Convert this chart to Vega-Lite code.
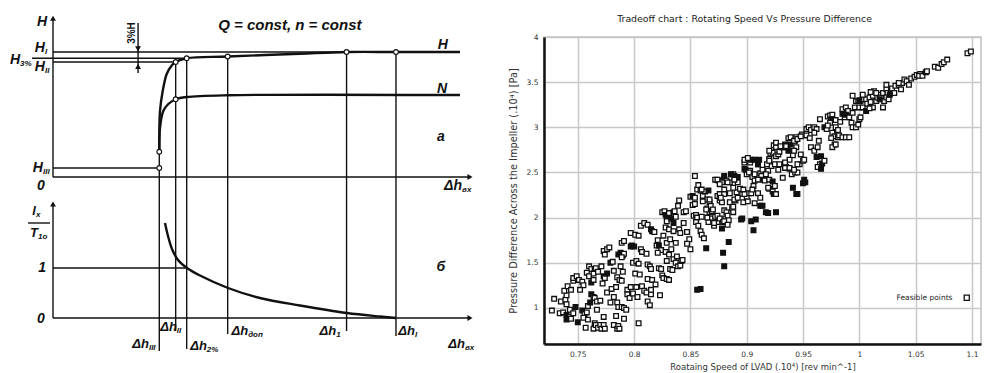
{
"$schema": "https://vega.github.io/schema/vega-lite/v6.json",
"padding": {"left": 5, "top": 12, "right": 2, "bottom": 0},
"background": "white",
"config": {"view": {"stroke": null}},
"datasets": {
"topRules": [
{"x":0,"y":0,"x2":0,"y2":127},{"x":0,"y":0,"x2":100,"y2":0},{"x":0,"y":100,"x2":97.6,"y2":100},
{"x":-5.04,"y":95,"x2":32.06,"y2":95},{"x":0,"y":92,"x2":29.42,"y2":92},{"x":0,"y":7.2,"x2":25.49,"y2":7.2},
{"x":25.49,"y":20.2,"x2":25.49,"y2":-12.8},{"x":29.42,"y":92,"x2":29.42,"y2":-12.8},{"x":32.06,"y":95,"x2":32.06,"y2":-12.8},
{"x":41.89,"y":96.4,"x2":41.89,"y2":-12.8},{"x":70.4,"y":100,"x2":70.4,"y2":-12.8},{"x":82.25,"y":100,"x2":82.25,"y2":-12.8},
{"x":20.4,"y":123.2,"x2":20.4,"y2":83.2}],
"topCurves": [
{"c":"H","o":1,"x":25.49,"y":20.2},{"c":"H","o":2,"x":25.5,"y":34.4},{"c":"H","o":3,"x":25.66,"y":52.8},{"c":"H","o":4,"x":26.31,"y":68.8},
{"c":"H","o":5,"x":27.27,"y":82.4},{"c":"H","o":6,"x":28.47,"y":89.2},{"c":"H","o":7,"x":29.42,"y":92},{"c":"H","o":8,"x":32.06,"y":95},
{"c":"H","o":9,"x":41.89,"y":96.4},{"c":"H","o":10,"x":59.2,"y":98.6},{"c":"H","o":11,"x":70.4,"y":100},{"c":"H","o":12,"x":82.25,"y":100},{"c":"H","o":13,"x":97.6,"y":100},
{"c":"N","o":1,"x":25.49,"y":20.2},{"c":"N","o":2,"x":25.66,"y":39.4},{"c":"N","o":3,"x":26.45,"y":52.8},{"c":"N","o":4,"x":27.65,"y":58.4},
{"c":"N","o":5,"x":29.42,"y":62.2},{"c":"N","o":6,"x":32.06,"y":64},{"c":"N","o":7,"x":41.89,"y":65.4},{"c":"N","o":8,"x":97.6,"y":65.6}],
"topPts": [{"x":25.49,"y":20.2},{"x":25.49,"y":7.2},{"x":29.42,"y":92},{"x":32.06,"y":95},{"x":41.89,"y":96.4},{"x":70.4,"y":100},{"x":82.25,"y":100},{"x":29.42,"y":62.2}],
"topArrows": [{"x":0,"y":127,"d":"up"},{"x":100,"y":0,"d":"right"},{"x":20.4,"y":102.5,"d":"down"},{"x":20.4,"y":88.5,"d":"up"}],
"topSub": [{"x":-1.92,"y":103.2,"m":"H","s":"I"},{"x":-7.9,"y":93.5,"m":"H","s":"3%"},{"x":-1.92,"y":88,"m":"H","s":"II"},{"x":-2.4,"y":7.2,"m":"H","s":"III"},{"x":98.1,"y":-7.2,"m":"Δh","s":"вх"}],
"topTxt": [{"x":-2.64,"y":124.4,"t":"H"},{"x":-2.9,"y":-7.2,"t":"0"},{"x":93.5,"y":105.6,"t":"H"},{"x":93.3,"y":70.4,"t":"N"},{"x":93.0,"y":32,"t":"а"}],
"botRules": [
{"x":0,"y":0,"x2":0,"y2":2.28},{"x":0,"y":0,"x2":100,"y2":0},{"x":0,"y":1,"x2":32.06,"y2":1},
{"x":25.49,"y":2.5,"x2":25.49,"y2":-0.66},{"x":29.42,"y":2.5,"x2":29.42,"y2":-0.26},{"x":32.06,"y":2.5,"x2":32.06,"y2":-0.62},
{"x":41.89,"y":2.5,"x2":41.89,"y2":-0.32},{"x":70.4,"y":2.5,"x2":70.4,"y2":-0.26},{"x":82.25,"y":2.5,"x2":82.25,"y2":-0.36},
{"x":-6,"y":1.9,"x2":-0.72,"y2":1.9}],
"botCurve": [{"o":1,"x":26.86,"y":1.9},{"o":2,"x":27.58,"y":1.64},{"o":3,"x":28.54,"y":1.38},{"o":4,"x":29.98,"y":1.16},{"o":5,"x":32.13,"y":1.0},
{"o":6,"x":35.25,"y":0.85},{"o":7,"x":41.97,"y":0.6},{"o":8,"x":49.64,"y":0.4},{"o":9,"x":59.23,"y":0.25},{"o":10,"x":70.5,"y":0.1},{"o":11,"x":78.4,"y":0.03},{"o":12,"x":82.25,"y":0}],
"botArrows": [{"x":0,"y":2.28,"d":"up"},{"x":100,"y":0,"d":"right"}],
"botSub": [{"x":23.0,"y":-0.52,"m":"Δh","s":"III"},{"x":29.7,"y":-0.18,"m":"Δh","s":"II"},{"x":36.9,"y":-0.56,"m":"Δh","s":"2%"},
{"x":46.8,"y":-0.26,"m":"Δh","s":"доп"},{"x":67.9,"y":-0.26,"m":"Δh","s":"1"},{"x":86.8,"y":-0.26,"m":"Δh","s":"I"},
{"x":98.8,"y":-0.52,"m":"Δh","s":"вх"},{"x":-4.08,"y":2.14,"m":"l","s":"x"},{"x":-3.6,"y":1.7,"m":"T","s":"1o"}],
"botTxt": [{"x":-2.9,"y":-0.02,"t":"0"},{"x":-2.6,"y":1.0,"t":"1"},{"x":93.0,"y":1.02,"t":"б"}],
"pts": [
{"x":0.727,"y":0.97,"k":0},{"x":0.729,"y":1.10,"k":0},{"x":0.735,"y":1.07,"k":0},{"x":0.739,"y":1.09,"k":0},{"x":0.740,"y":1.14,"k":0},{"x":0.738,"y":1.19,"k":0},{"x":0.741,"y":1.24,"k":0},{"x":0.744,"y":1.20,"k":0},{"x":0.740,"y":1.04,"k":0},{"x":0.734,"y":0.94,"k":0},{"x":0.737,"y":0.95,"k":0},{"x":0.743,"y":0.98,"k":0},{"x":0.740,"y":0.92,"k":1},{"x":0.740,"y":0.87,"k":1},{"x":0.743,"y":0.90,"k":0},{"x":0.744,"y":0.88,"k":0},{"x":0.746,"y":0.94,"k":0},{"x":0.748,"y":1.01,"k":1},{"x":0.750,"y":0.84,"k":1},{"x":0.746,"y":1.30,"k":0},{"x":0.746,"y":1.33,"k":0},{"x":0.749,"y":1.35,"k":0},{"x":0.751,"y":1.31,"k":0},{"x":0.754,"y":1.29,"k":0},{"x":0.755,"y":1.25,"k":0},{"x":0.752,"y":1.20,"k":0},{"x":0.754,"y":0.97,"k":1},{"x":0.756,"y":0.93,"k":0},{"x":0.755,"y":0.89,"k":0},{"x":0.757,"y":0.78,"k":0},{"x":0.759,"y":0.87,"k":0},{"x":0.758,"y":0.95,"k":0},{"x":0.759,"y":1.02,"k":0},{"x":0.760,"y":1.46,"k":0},{"x":0.762,"y":1.43,"k":0},{"x":0.758,"y":1.39,"k":0},{"x":0.760,"y":1.35,"k":0},{"x":0.764,"y":1.38,"k":0},{"x":0.762,"y":1.28,"k":1},{"x":0.764,"y":1.31,"k":0},{"x":0.765,"y":1.43,"k":0},{"x":0.766,"y":1.44,"k":0},{"x":0.768,"y":1.40,"k":0},{"x":0.762,"y":1.15,"k":1},{"x":0.764,"y":1.12,"k":0},{"x":0.765,"y":1.11,"k":0},{"x":0.767,"y":1.07,"k":0},{"x":0.761,"y":1.06,"k":1},{"x":0.767,"y":0.98,"k":0},{"x":0.765,"y":0.83,"k":0},{"x":0.764,"y":0.77,"k":0},{"x":0.766,"y":0.81,"k":0},{"x":0.768,"y":0.78,"k":0},{"x":0.770,"y":0.81,"k":0},{"x":0.771,"y":0.77,"k":0},{"x":0.773,"y":0.81,"k":0},{"x":0.774,"y":0.77,"k":0},{"x":0.773,"y":0.90,"k":0},{"x":0.770,"y":1.08,"k":0},{"x":0.771,"y":1.46,"k":0},{"x":0.773,"y":1.35,"k":1},{"x":0.774,"y":1.33,"k":0},{"x":0.776,"y":1.38,"k":1},{"x":0.772,"y":1.27,"k":0},{"x":0.773,"y":1.63,"k":0},{"x":0.774,"y":1.59,"k":0},{"x":0.776,"y":1.65,"k":0},{"x":0.778,"y":1.67,"k":0},{"x":0.779,"y":1.50,"k":1},{"x":0.781,"y":1.51,"k":0},{"x":0.782,"y":1.41,"k":0},{"x":0.776,"y":1.17,"k":0},{"x":0.780,"y":1.21,"k":0},{"x":0.784,"y":1.23,"k":0},{"x":0.782,"y":1.12,"k":0},{"x":0.779,"y":1.06,"k":0},{"x":0.785,"y":1.06,"k":0},{"x":0.784,"y":0.91,"k":0},{"x":0.782,"y":0.81,"k":0},{"x":0.785,"y":0.77,"k":0},{"x":0.786,"y":0.80,"k":0},{"x":0.787,"y":0.77,"k":0},{"x":0.786,"y":1.01,"k":0},{"x":0.789,"y":1.01,"k":0},{"x":0.791,"y":1.00,"k":0},{"x":0.793,"y":0.98,"k":0},{"x":0.791,"y":0.88,"k":0},{"x":0.785,"y":1.34,"k":0},{"x":0.787,"y":1.31,"k":0},{"x":0.789,"y":1.30,"k":0},{"x":0.790,"y":1.40,"k":0},{"x":0.788,"y":1.46,"k":0},{"x":0.786,"y":1.59,"k":1},{"x":0.788,"y":1.61,"k":1},{"x":0.790,"y":1.58,"k":1},{"x":0.791,"y":1.60,"k":0},{"x":0.789,"y":1.72,"k":0},{"x":0.791,"y":1.74,"k":0},{"x":0.789,"y":1.56,"k":0},{"x":0.794,"y":1.20,"k":0},{"x":0.794,"y":1.15,"k":0},{"x":0.796,"y":1.11,"k":0},{"x":0.797,"y":1.23,"k":0},{"x":0.797,"y":1.68,"k":1},{"x":0.798,"y":1.69,"k":1},{"x":0.800,"y":1.68,"k":1},{"x":0.797,"y":1.83,"k":0},{"x":0.801,"y":1.81,"k":0},{"x":0.804,"y":1.80,"k":0},{"x":0.799,"y":1.50,"k":0},{"x":0.802,"y":1.52,"k":0},{"x":0.804,"y":1.49,"k":0},{"x":0.801,"y":1.38,"k":0},{"x":0.805,"y":1.37,"k":0},{"x":0.804,"y":0.83,"k":0},{"x":0.799,"y":1.16,"k":0},{"x":0.803,"y":1.12,"k":0},{"x":0.802,"y":1.23,"k":0},{"x":0.807,"y":1.24,"k":0},{"x":0.809,"y":1.19,"k":0},{"x":0.806,"y":1.65,"k":0},{"x":0.807,"y":1.62,"k":0},{"x":0.811,"y":1.60,"k":0},{"x":0.812,"y":1.48,"k":0},{"x":0.814,"y":1.46,"k":0},{"x":0.815,"y":1.43,"k":0},{"x":0.806,"y":1.91,"k":0},{"x":0.809,"y":1.94,"k":0},{"x":0.812,"y":1.92,"k":0},{"x":0.815,"y":1.87,"k":1},{"x":0.816,"y":1.85,"k":1},{"x":0.818,"y":1.84,"k":0},{"x":0.812,"y":1.32,"k":0},{"x":0.816,"y":1.31,"k":0},{"x":0.811,"y":1.17,"k":0},{"x":0.815,"y":1.15,"k":0},{"x":0.812,"y":1.07,"k":0},{"x":0.814,"y":1.03,"k":0},{"x":0.815,"y":1.20,"k":0},{"x":0.819,"y":1.26,"k":0},{"x":0.821,"y":1.75,"k":0},{"x":0.820,"y":1.69,"k":0},{"x":0.822,"y":1.69,"k":1},{"x":0.824,"y":1.64,"k":0},{"x":0.821,"y":1.61,"k":0},{"x":0.823,"y":1.14,"k":0},{"x":0.822,"y":1.44,"k":0},{"x":0.824,"y":1.43,"k":0},{"x":0.825,"y":1.36,"k":0},{"x":0.826,"y":1.33,"k":0},{"x":0.825,"y":2.06,"k":0},{"x":0.827,"y":2.07,"k":0},{"x":0.828,"y":2.03,"k":1},{"x":0.829,"y":2.01,"k":1},{"x":0.831,"y":2.05,"k":0},{"x":0.829,"y":1.96,"k":0},{"x":0.828,"y":1.89,"k":0},{"x":0.831,"y":1.87,"k":0},{"x":0.826,"y":1.80,"k":0},{"x":0.829,"y":1.72,"k":0},{"x":0.832,"y":1.76,"k":0},{"x":0.828,"y":1.62,"k":0},{"x":0.831,"y":1.59,"k":0},{"x":0.833,"y":1.65,"k":0},{"x":0.829,"y":1.52,"k":0},{"x":0.832,"y":1.43,"k":0},{"x":0.834,"y":1.42,"k":0},{"x":0.829,"y":1.32,"k":0},{"x":0.831,"y":1.31,"k":0},{"x":0.833,"y":1.99,"k":1},{"x":0.835,"y":1.94,"k":1},{"x":0.835,"y":2.06,"k":1},{"x":0.837,"y":2.01,"k":0},{"x":0.840,"y":2.19,"k":0},{"x":0.839,"y":2.13,"k":0},{"x":0.836,"y":2.07,"k":0},{"x":0.835,"y":1.85,"k":0},{"x":0.837,"y":1.72,"k":0},{"x":0.835,"y":1.54,"k":0},{"x":0.837,"y":1.50,"k":0},{"x":0.838,"y":1.57,"k":0},{"x":0.839,"y":1.46,"k":0},{"x":0.841,"y":1.47,"k":0},{"x":0.842,"y":1.52,"k":0},{"x":0.843,"y":1.53,"k":0},{"x":0.840,"y":1.87,"k":0},{"x":0.841,"y":1.83,"k":0},{"x":0.844,"y":1.94,"k":0},{"x":0.844,"y":2.06,"k":0},{"x":0.846,"y":2.07,"k":0},{"x":0.847,"y":1.84,"k":0},{"x":0.849,"y":1.76,"k":0},{"x":0.850,"y":1.65,"k":0},{"x":0.847,"y":1.71,"k":0},{"x":0.850,"y":2.23,"k":0},{"x":0.852,"y":2.24,"k":1},{"x":0.854,"y":2.22,"k":0},{"x":0.852,"y":2.14,"k":0},{"x":0.854,"y":2.15,"k":0},{"x":0.853,"y":2.02,"k":0},{"x":0.855,"y":2.03,"k":0},{"x":0.856,"y":2.00,"k":0},{"x":0.855,"y":1.95,"k":0},{"x":0.857,"y":1.91,"k":0},{"x":0.859,"y":1.85,"k":0},{"x":0.860,"y":1.81,"k":0},{"x":0.862,"y":1.77,"k":0},{"x":0.864,"y":1.66,"k":1},{"x":0.856,"y":1.20,"k":1},{"x":0.859,"y":1.21,"k":1},{"x":0.856,"y":2.31,"k":0},{"x":0.859,"y":2.30,"k":0},{"x":0.861,"y":2.24,"k":0},{"x":0.863,"y":2.29,"k":0},{"x":0.866,"y":2.30,"k":1},{"x":0.865,"y":2.20,"k":0},{"x":0.867,"y":2.17,"k":0},{"x":0.865,"y":2.10,"k":0},{"x":0.867,"y":2.06,"k":0},{"x":0.869,"y":2.07,"k":0},{"x":0.868,"y":1.99,"k":0},{"x":0.866,"y":1.95,"k":0},{"x":0.871,"y":1.91,"k":0},{"x":0.874,"y":1.95,"k":0},{"x":0.872,"y":2.01,"k":0},{"x":0.874,"y":2.02,"k":0},{"x":0.876,"y":1.99,"k":0},{"x":0.874,"y":2.24,"k":0},{"x":0.876,"y":2.26,"k":0},{"x":0.880,"y":2.31,"k":0},{"x":0.876,"y":2.19,"k":0},{"x":0.878,"y":2.17,"k":0},{"x":0.880,"y":2.08,"k":0},{"x":0.882,"y":2.06,"k":0},{"x":0.878,"y":1.88,"k":1},{"x":0.879,"y":1.95,"k":0},{"x":0.881,"y":1.99,"k":0},{"x":0.883,"y":2.02,"k":0},{"x":0.884,"y":1.97,"k":0},{"x":0.879,"y":1.61,"k":1},{"x":0.880,"y":1.46,"k":1},{"x":0.884,"y":1.73,"k":1},{"x":0.885,"y":2.17,"k":0},{"x":0.887,"y":2.10,"k":0},{"x":0.888,"y":2.06,"k":0},{"x":0.888,"y":2.12,"k":0},{"x":0.890,"y":2.19,"k":0},{"x":0.891,"y":2.28,"k":0},{"x":0.894,"y":2.32,"k":0},{"x":0.896,"y":2.26,"k":0},{"x":0.897,"y":2.17,"k":0},{"x":0.896,"y":1.99,"k":1},{"x":0.900,"y":2.22,"k":0},{"x":0.902,"y":2.27,"k":0},{"x":0.904,"y":1.96,"k":1},{"x":0.906,"y":1.86,"k":1},{"x":0.910,"y":2.27,"k":0},{"x":0.912,"y":2.22,"k":0},{"x":0.912,"y":2.13,"k":1},{"x":0.917,"y":2.06,"k":1},{"x":0.920,"y":2.32,"k":0},{"x":0.923,"y":2.29,"k":0},{"x":0.924,"y":2.26,"k":1},{"x":0.926,"y":2.06,"k":1},{"x":0.941,"y":2.33,"k":1},{"x":0.944,"y":2.26,"k":1},
{"x":0.854,"y":2.46,"k":0},{"x":0.857,"y":2.36,"k":0},{"x":0.872,"y":2.42,"k":0},{"x":0.875,"y":2.41,"k":1},{"x":0.880,"y":2.43,"k":1},{"x":0.882,"y":2.41,"k":0},{"x":0.878,"y":2.39,"k":0},{"x":0.885,"y":2.39,"k":0},{"x":0.892,"y":2.39,"k":0},{"x":0.888,"y":2.48,"k":0},{"x":0.889,"y":2.46,"k":1},{"x":0.892,"y":2.45,"k":1},{"x":0.898,"y":2.61,"k":0},{"x":0.900,"y":2.64,"k":0},{"x":0.903,"y":2.61,"k":0},{"x":0.904,"y":2.64,"k":1},{"x":0.898,"y":2.54,"k":1},{"x":0.900,"y":2.48,"k":0},{"x":0.903,"y":2.52,"k":0},{"x":0.905,"y":2.45,"k":0},{"x":0.907,"y":2.41,"k":0},{"x":0.906,"y":2.35,"k":0},{"x":0.910,"y":2.59,"k":0},{"x":0.912,"y":2.49,"k":0},{"x":0.913,"y":2.46,"k":0},{"x":0.915,"y":2.42,"k":0},{"x":0.916,"y":2.41,"k":0},{"x":0.919,"y":2.52,"k":0},{"x":0.922,"y":2.57,"k":0},{"x":0.918,"y":2.59,"k":0},{"x":0.920,"y":2.65,"k":0},{"x":0.921,"y":2.71,"k":0},{"x":0.923,"y":2.72,"k":0},{"x":0.924,"y":2.80,"k":0},{"x":0.926,"y":2.78,"k":0},{"x":0.926,"y":2.68,"k":0},{"x":0.928,"y":2.70,"k":0},{"x":0.929,"y":2.73,"k":0},{"x":0.931,"y":2.78,"k":1},{"x":0.932,"y":2.78,"k":1},{"x":0.934,"y":2.81,"k":1},{"x":0.936,"y":2.78,"k":0},{"x":0.938,"y":2.85,"k":0},{"x":0.937,"y":2.88,"k":0},{"x":0.939,"y":2.89,"k":0},{"x":0.943,"y":2.85,"k":1},{"x":0.944,"y":2.89,"k":0},{"x":0.949,"y":2.92,"k":0},{"x":0.944,"y":2.78,"k":0},{"x":0.941,"y":2.69,"k":0},{"x":0.938,"y":2.64,"k":0},{"x":0.934,"y":2.60,"k":0},{"x":0.935,"y":2.56,"k":0},{"x":0.938,"y":2.54,"k":0},{"x":0.940,"y":2.48,"k":0},{"x":0.943,"y":2.50,"k":0},{"x":0.947,"y":2.59,"k":0},{"x":0.950,"y":2.63,"k":0},{"x":0.945,"y":2.50,"k":0},{"x":0.952,"y":2.39,"k":1},{"x":0.950,"y":2.38,"k":1},{"x":0.953,"y":2.98,"k":0},{"x":0.955,"y":3.00,"k":0},{"x":0.957,"y":2.97,"k":0},{"x":0.960,"y":3.00,"k":0},{"x":0.962,"y":2.98,"k":0},{"x":0.953,"y":2.91,"k":0},{"x":0.956,"y":2.88,"k":0},{"x":0.957,"y":2.78,"k":0},{"x":0.960,"y":2.74,"k":0},{"x":0.963,"y":2.78,"k":0},{"x":0.964,"y":2.85,"k":0},{"x":0.962,"y":2.67,"k":1},{"x":0.966,"y":2.68,"k":1},{"x":0.965,"y":2.59,"k":0},{"x":0.963,"y":2.56,"k":0},{"x":0.967,"y":2.60,"k":1},{"x":0.966,"y":2.54,"k":1},{"x":0.969,"y":2.63,"k":0},{"x":0.960,"y":2.94,"k":0},{"x":0.965,"y":3.09,"k":0},{"x":0.969,"y":3.00,"k":1},{"x":0.971,"y":2.98,"k":0},{"x":0.972,"y":3.12,"k":0},{"x":0.974,"y":3.13,"k":0},{"x":0.976,"y":3.14,"k":0},{"x":0.975,"y":3.09,"k":1},{"x":0.974,"y":3.05,"k":0},{"x":0.972,"y":3.02,"k":0},{"x":0.979,"y":3.08,"k":0},{"x":0.979,"y":3.00,"k":0},{"x":0.976,"y":2.94,"k":0},{"x":0.978,"y":2.90,"k":0},{"x":0.975,"y":2.88,"k":0},{"x":0.981,"y":2.89,"k":0},{"x":0.982,"y":2.91,"k":0},{"x":0.985,"y":2.89,"k":0},{"x":0.988,"y":2.89,"k":0},{"x":0.991,"y":2.89,"k":0},{"x":0.978,"y":2.81,"k":0},{"x":0.976,"y":2.78,"k":0},{"x":0.979,"y":2.81,"k":0},{"x":0.981,"y":2.97,"k":0},{"x":0.983,"y":3.06,"k":0},{"x":0.987,"y":3.11,"k":0},{"x":0.985,"y":3.20,"k":0},{"x":0.988,"y":3.22,"k":0},{"x":0.990,"y":3.18,"k":0},{"x":0.988,"y":3.14,"k":1},{"x":0.991,"y":3.11,"k":0},{"x":0.993,"y":3.05,"k":0},{"x":0.994,"y":3.00,"k":0},{"x":0.997,"y":3.00,"k":0},{"x":0.999,"y":3.03,"k":0},{"x":1.000,"y":3.09,"k":0},{"x":1.001,"y":3.11,"k":0},{"x":0.994,"y":3.16,"k":0},{"x":0.996,"y":3.22,"k":0},{"x":0.997,"y":3.29,"k":0},{"x":0.999,"y":3.29,"k":0},{"x":1.001,"y":3.29,"k":0},{"x":1.003,"y":3.31,"k":0},{"x":1.000,"y":3.22,"k":0},{"x":1.003,"y":3.22,"k":0},{"x":1.006,"y":3.18,"k":1},{"x":1.006,"y":3.31,"k":0},{"x":1.009,"y":3.33,"k":0},{"x":1.012,"y":3.35,"k":0},{"x":1.007,"y":3.26,"k":0},{"x":1.010,"y":3.28,"k":0},{"x":1.012,"y":3.22,"k":0},{"x":1.009,"y":3.21,"k":0},{"x":1.015,"y":3.29,"k":0},{"x":1.016,"y":3.33,"k":0},{"x":1.018,"y":3.36,"k":0},{"x":1.019,"y":3.33,"k":0},{"x":1.013,"y":3.40,"k":0},{"x":1.015,"y":3.38,"k":0},{"x":1.021,"y":3.38,"k":0},{"x":1.022,"y":3.29,"k":0},{"x":1.021,"y":3.22,"k":0},{"x":1.024,"y":3.42,"k":0},{"x":1.025,"y":3.38,"k":0},{"x":1.024,"y":3.33,"k":0},{"x":1.026,"y":3.31,"k":0},{"x":1.028,"y":3.40,"k":1},{"x":1.029,"y":3.43,"k":0},{"x":1.031,"y":3.38,"k":0},{"x":1.032,"y":3.46,"k":0},{"x":1.035,"y":3.47,"k":0},{"x":1.037,"y":3.42,"k":0},{"x":1.038,"y":3.49,"k":0},{"x":1.040,"y":3.53,"k":0},{"x":1.042,"y":3.51,"k":0},{"x":1.044,"y":3.47,"k":0},{"x":1.046,"y":3.54,"k":0},{"x":1.049,"y":3.56,"k":0},{"x":1.051,"y":3.58,"k":0},{"x":1.054,"y":3.59,"k":0},{"x":1.053,"y":3.57,"k":0},{"x":1.056,"y":3.57,"k":0},{"x":1.059,"y":3.61,"k":0},{"x":1.060,"y":3.62,"k":0},{"x":1.067,"y":3.67,"k":0},{"x":1.070,"y":3.66,"k":0},{"x":1.073,"y":3.70,"k":0},{"x":1.075,"y":3.72,"k":0},{"x":1.078,"y":3.75,"k":0},{"x":1.096,"y":3.82,"k":0},{"x":1.099,"y":3.84,"k":0},{"x":1.035,"y":3.49,"k":0},{"x":1.024,"y":3.47,"k":0},{"x":1.010,"y":3.39,"k":0},{"x":1.003,"y":3.36,"k":0},{"x":0.994,"y":3.35,"k":0},{"x":0.985,"y":3.15,"k":1},{"x":1.000,"y":3.30,"k":1},{"x":1.018,"y":3.31,"k":1},{"x":1.027,"y":3.36,"k":1},
{"x":0.898,"y":2.64,"k":0},{"x":0.901,"y":2.66,"k":0},{"x":0.907,"y":2.64,"k":1},{"x":0.911,"y":2.64,"k":1},{"x":0.910,"y":2.59,"k":1},{"x":0.899,"y":2.53,"k":1},{"x":0.902,"y":2.50,"k":0},{"x":0.907,"y":2.48,"k":0},{"x":0.910,"y":2.42,"k":0},{"x":0.914,"y":2.53,"k":0},{"x":0.917,"y":2.48,"k":0},{"x":0.920,"y":2.63,"k":0},{"x":0.925,"y":2.59,"k":0},{"x":0.929,"y":2.59,"k":0},{"x":0.934,"y":2.61,"k":0},{"x":0.928,"y":2.53,"k":0},{"x":0.934,"y":2.55,"k":0},{"x":0.938,"y":2.55,"k":0},{"x":0.942,"y":2.53,"k":0},{"x":0.945,"y":2.59,"k":0},{"x":0.920,"y":2.42,"k":0},{"x":0.923,"y":2.40,"k":1},{"x":0.932,"y":2.44,"k":0},{"x":0.926,"y":2.26,"k":0},{"x":0.945,"y":2.26,"k":1},{"x":0.951,"y":2.42,"k":1},{"x":0.914,"y":2.13,"k":1},{"x":0.919,"y":2.05,"k":1},{"x":0.895,"y":1.98,"k":1},{"x":0.908,"y":1.98,"k":1},{"x":0.886,"y":2.48,"k":1},{"x":0.889,"y":2.42,"k":0},{"x":0.880,"y":2.46,"k":1},{"x":0.874,"y":2.42,"k":0},{"x":0.876,"y":2.37,"k":0},{"x":0.883,"y":2.39,"k":0},{"x":0.888,"y":2.33,"k":0},{"x":0.885,"y":2.27,"k":0},{"x":0.880,"y":2.26,"k":0},{"x":0.877,"y":2.22,"k":0},{"x":0.889,"y":2.20,"k":0},{"x":0.892,"y":2.22,"k":0},{"x":0.897,"y":2.31,"k":0},{"x":0.898,"y":2.26,"k":0},{"x":0.904,"y":2.27,"k":0},{"x":0.905,"y":2.31,"k":0},{"x":0.901,"y":2.18,"k":0},{"x":0.907,"y":2.16,"k":0},{"x":0.925,"y":2.35,"k":0},{"x":0.919,"y":2.33,"k":0},{"x":0.920,"y":2.74,"k":0},{"x":0.926,"y":2.83,"k":0},{"x":0.930,"y":2.79,"k":0},{"x":0.935,"y":2.79,"k":0},{"x":0.939,"y":2.81,"k":1},{"x":0.942,"y":2.85,"k":0},{"x":0.945,"y":2.87,"k":0},{"x":0.948,"y":2.90,"k":0},{"x":0.937,"y":2.74,"k":1},{"x":0.942,"y":2.74,"k":0},{"x":0.948,"y":2.70,"k":0},{"x":0.951,"y":2.64,"k":0},{"x":0.860,"y":2.31,"k":0},{"x":0.867,"y":2.20,"k":0},{"x":0.861,"y":2.18,"k":0},{"x":0.868,"y":2.13,"k":0},{"x":0.864,"y":2.09,"k":0},{"x":0.870,"y":2.09,"k":0},{"x":0.860,"y":2.01,"k":0},{"x":0.865,"y":2.00,"k":0},{"x":0.871,"y":1.94,"k":0},{"x":0.880,"y":1.96,"k":0},{"x":0.883,"y":1.92,"k":0}
]
},
"hconcat": [
{
"width": 475, "height": 324,
"resolve": {"scale": {"y": "independent", "shape": "independent"}},
"layer": [
{
"encoding": {
"x": {"field": "x", "type": "quantitative", "scale": {"domain": [-11.51, 102.4], "nice": false, "zero": false}, "axis": null},
"y": {"field": "y", "type": "quantitative", "scale": {"domain": [-147.2, 112], "nice": false, "zero": false}, "axis": null}
},
"layer": [
{"data": {"name": "topRules"}, "mark": {"type": "rule", "color": "#111", "strokeWidth": 1.4}, "encoding": {"x2": {"field": "x2"}, "y2": {"field": "y2"}}},
{"data": {"name": "topCurves"}, "mark": {"type": "line", "color": "#111", "strokeWidth": 2.4, "interpolate": "catmull-rom"}, "encoding": {"detail": {"field": "c"}, "order": {"field": "o"}}},
{"data": {"name": "topPts"}, "mark": {"type": "point", "shape": "circle", "filled": true, "fill": "white", "stroke": "#111", "strokeWidth": 1.1, "size": 22, "opacity": 1}},
{"data": {"name": "topArrows"}, "mark": {"type": "point", "filled": true, "color": "#111", "size": 35, "opacity": 1}, "encoding": {"shape": {"field": "d", "type": "nominal", "scale": {"domain": ["up", "right", "down"], "range": ["triangle-up", "triangle-right", "triangle-down"]}, "legend": null}}},
{"data": {"name": "topSub"}, "mark": {"type": "text", "align": "right", "baseline": "middle", "font": "Liberation Sans", "fontWeight": "bold", "fontStyle": "italic", "fontSize": 14, "color": "#111"}, "encoding": {"text": {"field": "m"}}},
{"data": {"name": "topSub"}, "mark": {"type": "text", "align": "left", "baseline": "middle", "dy": 4, "font": "Liberation Sans", "fontWeight": "bold", "fontStyle": "italic", "fontSize": 8, "color": "#111"}, "encoding": {"text": {"field": "s"}}},
{"data": {"name": "topTxt"}, "mark": {"type": "text", "align": "center", "baseline": "middle", "font": "Liberation Sans", "fontWeight": "bold", "fontStyle": "italic", "fontSize": 14, "color": "#111"}, "encoding": {"text": {"field": "t"}}},
{"data": {"values": [{"x": 56.8, "y": 121.6, "t": "Q = const, n = const"}]}, "mark": {"type": "text", "align": "center", "baseline": "middle", "font": "Liberation Sans", "fontWeight": "bold", "fontStyle": "italic", "fontSize": 15, "color": "#111"}, "encoding": {"text": {"field": "t"}}},
{"data": {"values": [{"x": 18.9, "y": 115.2, "t": "3%H"}]}, "mark": {"type": "text", "align": "center", "baseline": "middle", "angle": 270, "font": "Liberation Sans", "fontWeight": "bold", "fontSize": 10, "color": "#111"}, "encoding": {"text": {"field": "t"}}}
]
},
{
"encoding": {
"x": {"field": "x", "type": "quantitative", "scale": {"domain": [-11.51, 102.4], "nice": false, "zero": false}, "axis": null},
"y": {"field": "y", "type": "quantitative", "scale": {"domain": [-0.86, 5.62], "nice": false, "zero": false}, "axis": null}
},
"layer": [
{"data": {"name": "botRules"}, "mark": {"type": "rule", "color": "#111", "strokeWidth": 1.4}, "encoding": {"x2": {"field": "x2"}, "y2": {"field": "y2"}}},
{"data": {"name": "botCurve"}, "mark": {"type": "line", "color": "#111", "strokeWidth": 2.4, "interpolate": "catmull-rom"}, "encoding": {"order": {"field": "o"}}},
{"data": {"name": "botArrows"}, "mark": {"type": "point", "filled": true, "color": "#111", "size": 35, "opacity": 1}, "encoding": {"shape": {"field": "d", "type": "nominal", "scale": {"domain": ["up", "right"], "range": ["triangle-up", "triangle-right"]}, "legend": null}}},
{"data": {"name": "botSub"}, "mark": {"type": "text", "align": "right", "baseline": "middle", "font": "Liberation Sans", "fontWeight": "bold", "fontStyle": "italic", "fontSize": 13, "color": "#111"}, "encoding": {"text": {"field": "m"}}},
{"data": {"name": "botSub"}, "mark": {"type": "text", "align": "left", "baseline": "middle", "dy": 4, "font": "Liberation Sans", "fontWeight": "bold", "fontStyle": "italic", "fontSize": 8, "color": "#111"}, "encoding": {"text": {"field": "s"}}},
{"data": {"name": "botTxt"}, "mark": {"type": "text", "align": "center", "baseline": "middle", "font": "Liberation Sans", "fontWeight": "bold", "fontStyle": "italic", "fontSize": 14, "color": "#111"}, "encoding": {"text": {"field": "t"}}}
]
}
]
},
{
"width": 437, "height": 307,
"title": {"text": "Tradeoff chart : Rotating Speed Vs Pressure Difference", "font": "DejaVu Sans", "fontSize": 9.4, "fontWeight": "normal", "color": "#222", "offset": 9, "anchor": "middle", "frame": "bounds"},
"view": {"stroke": "#c0c0c0", "strokeWidth": 1.5},
"data": {"name": "pts"},
"mark": {"type": "point", "filled": true, "stroke": "#111", "strokeWidth": 1.3, "size": 22, "opacity": 1},
"encoding": {
"x": {"field": "x", "type": "quantitative", "scale": {"domain": [0.72, 1.108], "nice": false, "zero": false},
 "axis": {"values": [0.75, 0.8, 0.85, 0.9, 0.95, 1, 1.05, 1.1], "format": "~g", "title": "Roataing Speed of LVAD  (.10⁴)  [rev min^-1]", "grid": true, "gridColor": "#c8c8c8", "gridWidth": 1.5, "domainColor": "#111", "domainWidth": 2.5, "ticks": false, "labelPadding": 6, "labelFont": "DejaVu Sans", "labelFontSize": 7.5, "labelColor": "#333", "titleFont": "DejaVu Sans", "titleFontSize": 8.5, "titleFontWeight": "normal", "titleColor": "#333", "titlePadding": 5}},
"y": {"field": "y", "type": "quantitative", "scale": {"domain": [0.6, 4], "nice": false, "zero": false},
 "axis": {"values": [1, 1.5, 2, 2.5, 3, 3.5, 4], "format": "~g", "title": "Pressure Difference Across the Impeller  (.10⁴)  [Pa]", "grid": true, "gridColor": "#c8c8c8", "gridWidth": 1.5, "domainColor": "#111", "domainWidth": 2.5, "ticks": false, "labelPadding": 6, "labelFont": "DejaVu Sans", "labelFontSize": 7.5, "labelColor": "#333", "titleFont": "DejaVu Sans", "titleFontSize": 9.8, "titleFontWeight": "normal", "titleColor": "#333", "titlePadding": 8}},
"fill": {"field": "k", "type": "nominal", "scale": {"domain": [0, 1], "range": ["white", "#111"]}, "legend": null},
"shape": {"field": "k", "type": "nominal", "scale": {"domain": [0, 1], "range": ["square", "square"]},
 "legend": {"values": [0], "labelExpr": "'Feasible points'", "orient": "none", "legendX": 958, "legendY": 257, "title": null, "padding": 0, "labelFont": "DejaVu Sans", "labelFontSize": 7.5, "labelColor": "#222", "labelAlign": "right", "labelOffset": -18, "symbolStrokeColor": "#111", "symbolFillColor": "white", "symbolStrokeWidth": 1.3, "symbolSize": 26}}
}
}
],
"spacing": 27
}
